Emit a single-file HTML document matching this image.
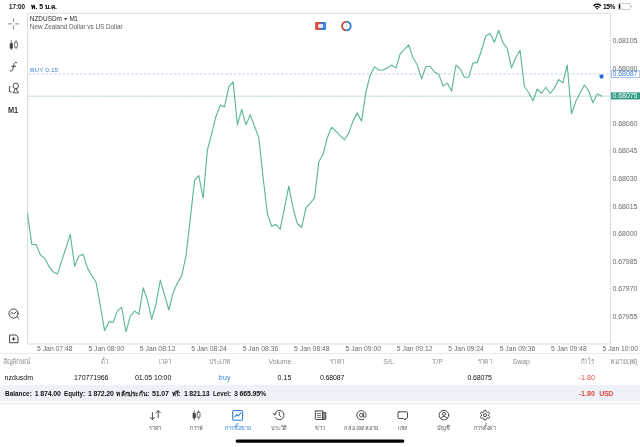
<!DOCTYPE html>
<html><head><meta charset="utf-8"><title>NZDUSDm M1</title>
<style>
html,body{margin:0;padding:0;background:#fff;}
body{width:640px;height:447px;position:relative;overflow:hidden;font-family:"Liberation Sans",sans-serif;color:#000;}
div{position:absolute;white-space:nowrap;line-height:1;}
svg{position:absolute;left:0;top:0;}
#w{left:0;top:0;width:640px;height:447px;will-change:transform;filter:blur(0.3px);}
</style></head><body><div id="w">
<div style="left:0;top:385px;width:640px;height:16.2px;background:#eff1f8;"></div>
<svg width="640" height="447" viewBox="0 0 640 447">
  <path d="M27.5 13.2 V344 H610.5 V13.2 Z" fill="none" stroke="#d4d4d4" stroke-width="0.8"/>
  <line x1="28.6" y1="74" x2="610" y2="74" stroke="#aec4e6" stroke-width="0.9" stroke-dasharray="2.2 2.08"/>
  <line x1="28" y1="96.2" x2="610" y2="96.2" stroke="#dcebe5" stroke-width="0.8"/>
  <line x1="28" y1="96.2" x2="610" y2="96.2" stroke="#8dc0ab" stroke-width="0.8" stroke-dasharray="0.8 1.1"/>
  <polyline points="27.5,213.8 31.8,244.4 36.1,244.6 40.4,255.0 44.6,258.1 48.9,266.2 53.2,271.9 57.5,274.0 61.8,260.6 66.1,247.5 70.3,234.4 74.6,266.2 78.9,256.0 83.2,254.4 87.5,268.1 91.8,275.6 96.0,282.0 100.3,305.5 104.6,330.6 108.9,321.9 113.2,322.2 117.5,310.6 121.7,307.5 126.0,331.9 130.3,316.2 134.6,311.0 138.9,314.4 143.2,287.8 147.4,300.0 151.7,319.4 156.0,303.8 160.3,280.1 164.6,295.3 168.9,310.0 173.1,293.0 177.4,283.0 181.7,275.6 186.0,256.0 190.3,218.4 194.6,180.0 198.8,175.6 203.1,198.1 207.4,150.0 211.7,133.8 216.0,116.2 220.3,105.2 224.5,106.9 228.8,86.9 233.1,81.9 237.4,124.9 241.7,109.4 246.0,124.9 250.2,114.9 254.5,126.2 258.8,137.5 263.1,177.5 267.4,213.8 271.7,226.2 275.9,224.4 280.2,229.4 284.5,207.6 288.8,186.2 293.1,208.0 297.4,223.8 301.7,227.5 305.9,208.1 310.2,203.1 314.5,198.1 318.8,161.9 323.1,154.0 327.4,137.5 331.6,127.2 335.9,131.2 340.2,135.6 344.5,139.8 348.8,133.1 353.1,120.6 357.3,112.9 361.6,121.2 365.9,92.0 370.2,75.0 374.5,66.9 378.8,70.0 383.0,70.0 387.3,68.1 391.6,65.0 395.9,68.1 400.2,53.8 404.5,49.4 408.7,45.0 413.0,57.8 417.3,65.0 421.6,78.9 425.9,66.5 430.2,66.5 434.4,71.9 438.7,73.9 443.0,86.1 447.3,83.1 451.6,91.2 455.9,65.0 460.1,68.8 464.4,77.2 468.7,77.2 473.0,62.8 477.3,62.8 481.6,50.0 485.8,35.8 490.1,33.5 494.4,42.3 498.7,30.2 503.0,42.8 507.3,48.6 511.5,67.8 515.8,57.5 520.1,50.4 524.4,86.5 528.7,92.5 533.0,101.0 537.2,89.0 541.5,93.5 545.8,87.2 550.1,93.5 554.4,88.1 558.7,79.4 562.9,82.9 567.2,65.0 571.5,113.8 575.8,101.2 580.1,93.0 584.4,85.0 588.7,90.8 592.9,102.8 597.2,94.0 601.5,96.0" fill="none" stroke="#5fb897" stroke-width="1.15" stroke-linejoin="round" stroke-linecap="round"/>
  <path d="M601.5 73.9 L603.8 75.8 L602.9 78.5 H600.1 L599.2 75.8 Z" fill="#2c68d6"/>
  <rect x="611.4" y="70.8" width="28.4" height="6.6" fill="#fff" stroke="#6c9be6" stroke-width="0.6"/>
  <rect x="611" y="92.4" width="29" height="7" fill="#2f9a86"/>
  <path d="M64 18 H67.3 L65.65 20.3 Z" fill="#333"/>
  <path d="M609.2 40.5H610.5M609.2 68.1H610.5M609.2 95.7H610.5M609.2 123.3H610.5M609.2 150.9H610.5M609.2 178.4H610.5M609.2 206.0H610.5M609.2 233.6H610.5M609.2 261.2H610.5M609.2 288.8H610.5M609.2 316.4H610.5" stroke="#cfcfcf" stroke-width="0.6" fill="none"/>
  <rect x="235.6" y="439.4" width="168.8" height="3.4" rx="1.7" fill="#000"/>
  <rect x="0" y="402.9" width="640" height="1.6" fill="#ececec"/>
  <rect x="0" y="353.3" width="640" height="0.5" fill="#d4d4d4"/>
<!-- status: wifi + battery -->
<g fill="none" stroke="#000" stroke-linecap="round">
  <path d="M593.9 5.5 A4.9 4.9 0 0 1 600.5 5.5" stroke-width="1.3"/>
  <path d="M595.3 7.1 A2.9 2.9 0 0 1 599.1 7.1" stroke-width="1.2"/>
</g>
<path d="M596.2 8.3 L597.2 9.4 L598.2 8.3 A1.5 1.5 0 0 0 596.2 8.3Z" fill="#000"/>
<rect x="618.2" y="3.5" width="12.2" height="6" rx="1.7" fill="none" stroke="#a8a8a8" stroke-width="0.6"/>
<path d="M631 5.4 A1.2 1.2 0 0 1 631 7.6 Z" fill="#a8a8a8"/>
<rect x="618.9" y="4.2" width="1.4" height="4.6" rx="0.5" fill="#000"/>
<!-- sidebar: crosshair -->
<g stroke="#555" stroke-width="0.7" fill="none">
  <path d="M8.2 23.9 H12 M15.2 23.9 H19 M13.6 18.6 V22.4 M13.6 25.4 V29.4"/>
</g>
<!-- sidebar: candles -->
<g stroke="#444" stroke-width="0.7" fill="none">
  <path d="M11.3 40.2 V50 M16 40.2 V49.2"/>
  <rect x="10.1" y="43.4" width="2.4" height="4.8" rx="0.3" fill="#444"/>
  <rect x="14.6" y="42.2" width="2.8" height="5" rx="0.3" fill="#fff"/>
</g>
<!-- sidebar: f -->
<path d="M16.6 62.6 C15.2 62 14.3 62.6 13.9 64.4 L12.9 69.2 C12.5 70.9 11.6 71.5 10.2 70.9 M11.9 66.3 H15.6" fill="none" stroke="#3c3c3c" stroke-width="0.95" stroke-linecap="round"/>
<!-- sidebar: shapes -->
<g stroke="#3c3c3c" stroke-width="0.9" fill="none" stroke-linejoin="round">
  <circle cx="15.75" cy="85.9" r="2.75"/>
  <path d="M15.75 88.2 L18.4 92.8 H13.1 Z" fill="#fff"/>
  <path d="M10.5 86.7 H9.4 V91.9 H11.7"/>
</g>
<!-- sidebar: magnifier -->
<g stroke="#3c3c3c" stroke-width="0.95" fill="none" stroke-linecap="round" stroke-linejoin="round">
  <circle cx="13.5" cy="313.5" r="4.6"/>
  <path d="M16.8 316.6 L18.9 318.6"/>
  <path d="M10.7 313.6 L12 312.5 L13.5 313.9 L16.1 312"/>
</g>
<!-- sidebar: add window -->
<g stroke="#3c3c3c" stroke-width="0.95" fill="none" stroke-linejoin="round">
  <path d="M9.6 335 H16 L18 337 V342.7 H9.6 Z"/>
  <path d="M13.6 337.2 V340.8 M11.8 339 H15.4" stroke-width="1.1"/>
</g>
<!-- top icons -->
<rect x="315.1" y="22" width="5.5" height="7.9" rx="0.8" fill="#d9503f"/>
<rect x="320.5" y="22" width="5.4" height="7.9" rx="0.8" fill="#2f7de0"/>
<rect x="319.5" y="22" width="2" height="7.9" fill="#d9503f"/>
<rect x="320.5" y="22" width="1" height="7.9" fill="#2f7de0"/>
<rect x="318" y="24" width="5.2" height="3.9" rx="1.4" fill="#f2dfe0"/>
<rect x="320.5" y="24" width="2.7" height="3.9" rx="1.2" fill="#d6e4f7"/>
<path d="M346.4 21.7 A4.3 4.3 0 0 0 346.4 30.3" fill="none" stroke="#bb4a42" stroke-width="1.9"/>
<path d="M346.4 21.7 A4.3 4.3 0 0 1 346.4 30.3" fill="none" stroke="#2f7de0" stroke-width="1.9"/>
<path d="M346.3 24.3 V26.6 L347.2 27.3" fill="none" stroke="#5b8fd8" stroke-width="0.5"/>
<!-- TAB ICONS -->
<g stroke="#48484c" stroke-width="1" fill="none" stroke-linecap="round" stroke-linejoin="round">
  <path d="M152.4 412.6 V419.4 M150.3 417.4 L152.4 419.6 L154.5 417.4"/>
  <path d="M158.2 417.4 V410.8 M156.1 412.8 L158.2 410.6 L160.3 412.8"/>
  <path d="M194.2 410.6 V420 M198.6 410.6 V419.2" stroke-width="0.8"/>
  <rect x="193" y="413.4" width="2.4" height="4.6" rx="0.3" fill="#48484c" stroke-width="0.8"/>
  <rect x="197.2" y="412.4" width="2.8" height="4.8" rx="0.3" fill="#fff" stroke-width="0.8"/>
  <path d="M274.61 414.85 A4.7 4.7 0 1 1 275.23 417.45"/>
  <path d="M273 413.2 L274.6 415 L276.3 413.4" stroke-width="0.9"/>
  <path d="M279.3 412.5 V415.1 L281.1 416.9"/>
  <path d="M316 410.9 H322.8 V419.5 H316 A0.7 0.7 0 0 1 315.3 418.8 V411.6 A0.7 0.7 0 0 1 316 410.9 Z"/>
  <path d="M322.8 412.4 H325.2 A0.6 0.6 0 0 1 325.8 413 V418.9 A0.6 0.6 0 0 1 325.2 419.5 H322.8 Z" fill="#909094"/>
  <path d="M317 413.4 H321 M317 415.4 H321 M317 417.4 H321" stroke-width="0.8" stroke-linecap="butt"/>
  <circle cx="361.4" cy="415.2" r="1.9"/>
  <path d="M363.3 413.2 V416 A1.35 1.35 0 0 0 366 416 V415.2 A4.6 4.6 0 1 0 363.9 419.1"/>
  <path d="M399 411.8 H406.5 A1 1 0 0 1 407.5 412.8 V417.5 A1 1 0 0 1 406.5 418.5 H405.6 L405.1 420 L403.4 418.5 H399 A1 1 0 0 1 398 417.5 V412.8 A1 1 0 0 1 399 411.8 Z"/>
  <circle cx="443.9" cy="415.1" r="4.8"/>
  <circle cx="443.9" cy="413.8" r="1.6"/>
  <path d="M440.7 418.4 A3.6 3.6 0 0 1 447.1 418.4"/>
  <circle cx="485" cy="415.2" r="1.6"/>
  <path d="M483.80 411.70 L484.07 410.39 L485.93 410.39 L486.20 411.70 L487.43 412.41 L488.70 411.99 L489.63 413.60 L488.63 414.49 L488.63 415.91 L489.63 416.80 L488.70 418.41 L487.43 417.99 L486.20 418.70 L485.93 420.01 L484.07 420.01 L483.80 418.70 L482.57 417.99 L481.30 418.41 L480.37 416.80 L481.37 415.91 L481.37 414.49 L480.37 413.60 L481.30 411.99 L482.57 412.41 Z" stroke-width="0.95"/>
</g>
<g stroke="#2f7fd8" stroke-width="1.1" fill="none" stroke-linecap="round" stroke-linejoin="round">
  <rect x="232.7" y="410.5" width="9.9" height="9.8" rx="1.3"/>
  <path d="M234.7 416.9 L236.6 414.5 L238.3 416 L240.8 412.8"/>
</g>

<g font-family='"Liberation Sans", sans-serif'>
<text x="31.4" y="9" font-size="6.6" font-weight="bold" fill="#000" textLength="25.5" lengthAdjust="spacingAndGlyphs">พ. 5 ม.ค.</text>
<text x="3.2" y="364" font-size="7.3" fill="#8e8e93" textLength="27.4" lengthAdjust="spacingAndGlyphs">สัญลักษณ์</text>
<text x="100.79" y="364" font-size="7.3" fill="#8e8e93" textLength="7.4" lengthAdjust="spacingAndGlyphs">ตั๋ว</text>
<text x="159" y="364" font-size="7.3" fill="#8e8e93" textLength="12.3" lengthAdjust="spacingAndGlyphs">เวลา</text>
<text x="208.8" y="364" font-size="7.3" fill="#8e8e93" textLength="21.7" lengthAdjust="spacingAndGlyphs">ประเภท</text>
<text x="330" y="364" font-size="7.3" fill="#8e8e93" textLength="14.5" lengthAdjust="spacingAndGlyphs">ราคา</text>
<text x="477.5" y="364" font-size="7.3" fill="#8e8e93" textLength="14.5" lengthAdjust="spacingAndGlyphs">ราคา</text>
<text x="580.9" y="364" font-size="7.3" fill="#8e8e93" textLength="13.4" lengthAdjust="spacingAndGlyphs">กำไร</text>
<text x="610" y="364" font-size="7.3" fill="#8e8e93" textLength="28" lengthAdjust="spacingAndGlyphs">หมายเหตุ</text>
<text x="116.4" y="396" font-size="7" font-weight="bold" fill="#111" textLength="33" lengthAdjust="spacingAndGlyphs">หลักประกัน:</text>
<text x="171.6" y="396" font-size="7" font-weight="bold" fill="#111" textLength="9" lengthAdjust="spacingAndGlyphs">ฟรี:</text>
<text x="149" y="429.6" font-size="5.9" fill="#55555a" textLength="12" lengthAdjust="spacingAndGlyphs">ราคา</text>
<text x="190.3" y="429.6" font-size="5.9" fill="#55555a" textLength="12.2" lengthAdjust="spacingAndGlyphs">กราฟ</text>
<text x="224.75" y="429.6" font-size="5.9" fill="#2f7fd8" textLength="25.5" lengthAdjust="spacingAndGlyphs">การซื้อขาย</text>
<text x="271.25" y="429.6" font-size="5.9" fill="#55555a" textLength="15.9" lengthAdjust="spacingAndGlyphs">ประวัติ</text>
<text x="315.3" y="429.6" font-size="5.9" fill="#55555a" textLength="9.4" lengthAdjust="spacingAndGlyphs">ข่าว</text>
<text x="344.4" y="429.6" font-size="5.9" fill="#55555a" textLength="33.4" lengthAdjust="spacingAndGlyphs">กล่องจดหมาย</text>
<text x="397.8" y="429.6" font-size="5.9" fill="#55555a" textLength="9.9" lengthAdjust="spacingAndGlyphs">แชท</text>
<text x="437.2" y="429.6" font-size="5.9" fill="#55555a" textLength="12.5" lengthAdjust="spacingAndGlyphs">บัญชี</text>
<text x="473.75" y="429.6" font-size="5.9" fill="#55555a" textLength="22.2" lengthAdjust="spacingAndGlyphs">การตั้งค่า</text>
</g>
</svg>
<div style="top:3px;line-height:7px;font-size:6.9px;color:#111;font-weight:bold;transform:scaleX(0.9135);transform-origin:0 0;left:9.30px;">17:00</div>
<div style="top:3px;line-height:7px;font-size:6.6px;color:#000;font-weight:bold;letter-spacing:-0.402px;left:603.10px;">15%</div>
<div style="top:15px;line-height:7px;font-size:6.4px;color:#2a2a2a;letter-spacing:0.024px;left:29.80px;">NZDUSDm</div>
<div style="top:15px;line-height:7px;font-size:6.4px;color:#2a2a2a;letter-spacing:-0.691px;left:69.60px;">M1</div>
<div style="top:23px;line-height:7px;font-size:6.4px;color:#5c5c5c;letter-spacing:-0.021px;left:29.80px;">New Zealand Dollar vs US Dollar</div>
<div style="top:66px;line-height:7px;font-size:6.1px;color:#4d8ad8;transform:scaleX(1.0891);transform-origin:0 0;left:29.80px;">BUY 0.15</div>
<div style="top:105px;line-height:10px;font-size:8.5px;color:#3a3a3a;font-weight:bold;transform:scaleX(0.8635);transform-origin:0 0;left:8.40px;">M1</div>
<div style="top:37px;line-height:7px;font-size:7.0px;color:#6a6a6a;letter-spacing:-0.069px;left:612.50px;">0.68105</div>
<div style="top:65px;line-height:7px;font-size:7.0px;color:#6a6a6a;letter-spacing:-0.069px;left:612.50px;">0.68090</div>
<div style="top:120px;line-height:7px;font-size:7.0px;color:#6a6a6a;letter-spacing:-0.069px;left:612.50px;">0.68060</div>
<div style="top:147px;line-height:7px;font-size:7.0px;color:#6a6a6a;letter-spacing:-0.069px;left:612.50px;">0.68045</div>
<div style="top:175px;line-height:7px;font-size:7.0px;color:#6a6a6a;letter-spacing:-0.069px;left:612.50px;">0.68030</div>
<div style="top:203px;line-height:7px;font-size:7.0px;color:#6a6a6a;letter-spacing:-0.069px;left:612.50px;">0.68015</div>
<div style="top:230px;line-height:7px;font-size:7.0px;color:#6a6a6a;letter-spacing:-0.069px;left:612.50px;">0.68000</div>
<div style="top:258px;line-height:7px;font-size:7.0px;color:#6a6a6a;letter-spacing:-0.069px;left:612.50px;">0.67985</div>
<div style="top:285px;line-height:7px;font-size:7.0px;color:#6a6a6a;letter-spacing:-0.069px;left:612.50px;">0.67970</div>
<div style="top:313px;line-height:7px;font-size:7.0px;color:#6a6a6a;letter-spacing:-0.069px;left:612.50px;">0.67955</div>
<div style="top:345px;line-height:7px;font-size:6.8px;color:#6a6a6a;letter-spacing:0.007px;left:37.00px;">5 Jan 07:48</div>
<div style="top:345px;line-height:7px;font-size:6.8px;color:#6a6a6a;letter-spacing:0.007px;left:88.41px;">5 Jan 08:00</div>
<div style="top:345px;line-height:7px;font-size:6.8px;color:#6a6a6a;letter-spacing:0.007px;left:139.82px;">5 Jan 08:12</div>
<div style="top:345px;line-height:7px;font-size:6.8px;color:#6a6a6a;letter-spacing:0.007px;left:191.23px;">5 Jan 08:24</div>
<div style="top:345px;line-height:7px;font-size:6.8px;color:#6a6a6a;letter-spacing:0.007px;left:242.64px;">5 Jan 08:36</div>
<div style="top:345px;line-height:7px;font-size:6.8px;color:#6a6a6a;letter-spacing:0.007px;left:294.05px;">5 Jan 08:48</div>
<div style="top:345px;line-height:7px;font-size:6.8px;color:#6a6a6a;letter-spacing:0.007px;left:345.46px;">5 Jan 09:00</div>
<div style="top:345px;line-height:7px;font-size:6.8px;color:#6a6a6a;letter-spacing:0.007px;left:396.87px;">5 Jan 09:12</div>
<div style="top:345px;line-height:7px;font-size:6.8px;color:#6a6a6a;letter-spacing:0.007px;left:448.28px;">5 Jan 09:24</div>
<div style="top:345px;line-height:7px;font-size:6.8px;color:#6a6a6a;letter-spacing:0.007px;left:499.69px;">5 Jan 09:36</div>
<div style="top:345px;line-height:7px;font-size:6.8px;color:#6a6a6a;letter-spacing:0.007px;left:551.10px;">5 Jan 09:48</div>
<div style="top:345px;line-height:7px;font-size:6.8px;color:#6a6a6a;letter-spacing:0.007px;left:602.51px;">5 Jan 10:00</div>
<div style="top:374px;line-height:7px;font-size:7.0px;color:#111;letter-spacing:0.016px;left:4.60px;">nzdusdm</div>
<div style="top:374px;line-height:7px;font-size:7.0px;color:#111;letter-spacing:-0.068px;left:74.00px;">170771966</div>
<div style="top:374px;line-height:7px;font-size:7.0px;color:#111;letter-spacing:-0.068px;left:135.00px;">01.05 10:00</div>
<div style="top:374px;line-height:7px;font-size:7.0px;color:#2f7fd8;letter-spacing:0.202px;left:218.80px;">buy</div>
<div style="top:374px;line-height:7px;font-size:7.0px;color:#111;letter-spacing:0.058px;left:277.60px;">0.15</div>
<div style="top:374px;line-height:7px;font-size:7.0px;color:#111;letter-spacing:-0.152px;left:320.00px;">0.68087</div>
<div style="top:374px;line-height:7px;font-size:7.0px;color:#111;letter-spacing:-0.135px;left:467.50px;">0.68075</div>
<div style="top:374px;line-height:7px;font-size:7.0px;color:#e2483d;letter-spacing:0.083px;left:578.60px;">-1.80</div>
<div style="top:358px;line-height:7px;font-size:7.0px;color:#8e8e93;letter-spacing:-0.112px;left:268.60px;">Volume</div>
<div style="top:358px;line-height:7px;font-size:7.0px;color:#8e8e93;letter-spacing:0.092px;left:383.30px;">S/L</div>
<div style="top:358px;line-height:7px;font-size:7.0px;color:#8e8e93;letter-spacing:0.055px;left:432.00px;">T/P</div>
<div style="top:358px;line-height:7px;font-size:7.0px;color:#8e8e93;letter-spacing:-0.005px;left:512.50px;">Swap</div>
<div style="top:390px;line-height:7px;font-size:7.0px;color:#111;font-weight:bold;transform:scaleX(0.9182);transform-origin:0 0;left:4.70px;">Balance:</div>
<div style="top:390px;line-height:7px;font-size:7.0px;color:#111;font-weight:bold;letter-spacing:-0.136px;left:34.70px;">1 874.00</div>
<div style="top:390px;line-height:7px;font-size:7.0px;color:#111;font-weight:bold;transform:scaleX(0.8848);transform-origin:0 0;left:63.80px;">Equity:</div>
<div style="top:390px;line-height:7px;font-size:7.0px;color:#111;font-weight:bold;letter-spacing:-0.221px;left:88.10px;">1 872.20</div>
<div style="top:390px;line-height:7px;font-size:7.0px;color:#111;font-weight:bold;letter-spacing:-0.183px;left:152.00px;">51.07</div>
<div style="top:390px;line-height:7px;font-size:7.0px;color:#111;font-weight:bold;letter-spacing:-0.207px;left:183.90px;">1 821.13</div>
<div style="top:390px;line-height:7px;font-size:7.0px;color:#111;font-weight:bold;transform:scaleX(0.8896);transform-origin:0 0;left:212.80px;">Level:</div>
<div style="top:390px;line-height:7px;font-size:7.0px;color:#111;font-weight:bold;letter-spacing:-0.136px;left:233.90px;">3 665.95%</div>
<div style="top:390px;line-height:7px;font-size:7.0px;color:#e2483d;font-weight:bold;letter-spacing:0.083px;left:578.60px;">-1.80</div>
<div style="top:390px;line-height:7px;font-size:7.0px;color:#e2483d;font-weight:bold;letter-spacing:-0.441px;left:599.30px;">USD</div>
<div style="left:612.6px;top:70px;line-height:7px;font-size:7px;color:#3b7de0;letter-spacing:-0.069px">0.68087</div>
<div style="left:612.6px;top:92px;line-height:7px;font-size:7px;color:#fff;letter-spacing:-0.069px">0.68075</div>
</div></body></html>
